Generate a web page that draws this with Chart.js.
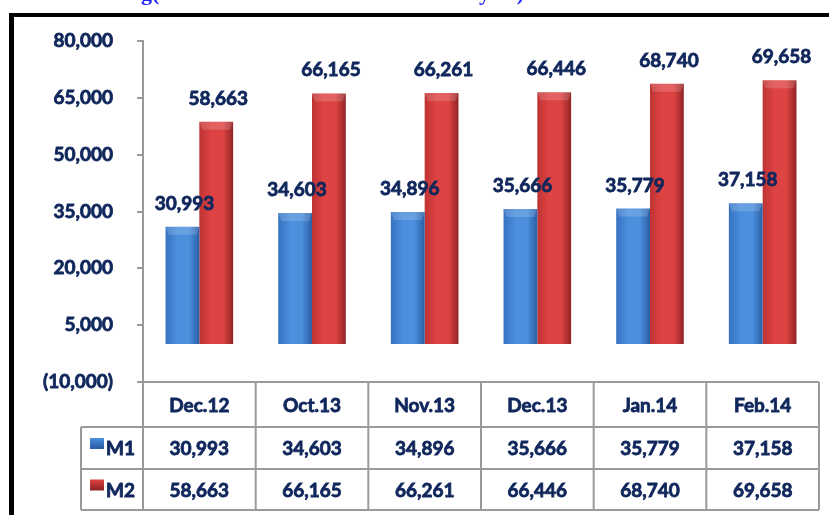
<!DOCTYPE html>
<html>
<head>
<meta charset="utf-8">
<script src="https://cdn.jsdelivr.net/npm/chart.js@4.4.1/dist/chart.umd.min.js"></script>
<style>
  body { margin: 0; background: #fff; }
  #wrap { width: 829px; height: 515px; position: relative; overflow: hidden; }
</style>
</head>
<body>
<div id="wrap"><canvas id="moneyChart" width="829" height="515"></canvas></div>
<script>
// Data
const categories = ['Dec.12', 'Oct.13', 'Nov.13', 'Dec.13', 'Jan.14', 'Feb.14'];
const seriesNames = ['M1', 'M2'];
const m1Values = [30993, 34603, 34896, 35666, 35779, 37158];
const m2Values = [58663, 66165, 66261, 66446, 68740, 69658];
const yMin = -10000;
const yMax = 80000;
const yStep = 15000;

const navy = '#10275c';
const gridGray = '#9a9a9a';
const labelFont = 'bold 19px Lato';
const boldStroke = 0.8;   // extra weight so Lato looks like heavy Calibri

// Bar shading - [edge, center, dark edge]
const barShades = [
	['#3572c2', '#4b8fdd', '#2b5ea6'],   // blue (M1)
	['#bf3333', '#de4343', '#922424']    // red (M2)
];

const catPct = 0.6;

const fmt = v => v < 0 ? '(' + Math.abs(v).toLocaleString('en-US') + ')' : v.toLocaleString('en-US');

function heavyText(c, txt, x, y) {
	c.fillText(txt, x, y);
	c.strokeText(txt, x, y);
}

// horizontal gradient across each bar so it looks rounded
function barFill(ctx, si) {
	const chart = ctx.chart;
	const x = chart.scales.x;
	const sh = barShades[si];
	if (!x || ctx.dataIndex == null || !chart.chartArea) return sh[1];
	const barW = x.width / categories.length * catPct / 2;
	const left = x.getPixelForValue(ctx.dataIndex) - barW + si * barW;
	const g = chart.ctx.createLinearGradient(left, 0, left + barW, 0);
	g.addColorStop(0, sh[0]);
	g.addColorStop(0.35, sh[1]);
	g.addColorStop(0.7, sh[1]);
	g.addColorStop(1, sh[2]);
	return g;
}

const framePlugin = {
	id: 'frame',
	beforeDraw(chart) {
		const c = chart.ctx;
		c.save();
		// cut-off title at the very top
		c.fillStyle = '#1f1fff';
		c.font = 'bold 22px "Liberation Serif"';
		c.textBaseline = 'alphabetic';
		c.textAlign = 'right';
		c.fillText('M1 and M2 Outstanding', 152, 0);
		c.textAlign = 'left';
		c.fillText('(Amount at the End of Month in Kyats)', 152, 0);
		// black frame
		c.fillStyle = '#000';
		c.fillRect(9, 13, 829, 4);
		c.fillRect(9, 13, 5, 515);
		c.restore();
	}
};

// top caps + value labels above bars, thicker y tick text
const barLabelPlugin = {
	id: 'barLabels',
	afterDatasetsDraw(chart) {
		const c = chart.ctx;
		c.save();
		c.strokeStyle = navy;
		c.lineWidth = boldStroke;
		chart.data.datasets.forEach((ds, di) => {
			chart.getDatasetMeta(di).data.forEach((el, i) => {
				const p = el.getProps(['x', 'y', 'width'], true);
				const left = p.x - p.width / 2;
				c.fillStyle = 'rgba(255,255,255,0.16)';
				c.beginPath();
				c.moveTo(left, p.y);
				c.lineTo(left + p.width, p.y);
				c.lineTo(left + p.width - 3, p.y + 8);
				c.lineTo(left + 3, p.y + 8);
				c.closePath();
				c.fill();

				c.fillStyle = navy;
				c.font = labelFont;
				c.textAlign = 'center';
				c.textBaseline = 'alphabetic';
				heavyText(c, fmt(ds.data[i]), p.x + 2, p.y - 17);
			});
		});

		// go over the y tick labels once more with a thin stroke
		const y = chart.scales.y;
		const o = y.options;
		c.font = labelFont;
		c.textAlign = 'right';
		c.textBaseline = 'middle';
		y.ticks.forEach((t, i) => {
			c.strokeText(fmt(t.value), y.right - o.grid.tickLength - o.ticks.padding, y.getPixelForTick(i));
		});
		c.restore();
	}
};

// data table under the plot
const tablePlugin = {
	id: 'dataTable',
	afterDraw(chart) {
		const c = chart.ctx;
		const x = chart.scales.x;
		const area = chart.chartArea;
		const catW = x.width / categories.length;
		const top = area.bottom;
		const rows = [top, top + 45, top + 87, top + 128];
		const legendLeft = 81;
		c.save();
		c.strokeStyle = gridGray;
		c.lineWidth = 2;
		c.beginPath();
		rows.forEach((ry, ri) => {
			c.moveTo(ri === 0 ? area.left : legendLeft, ry);
			c.lineTo(area.right, ry);
		});
		for (let i = 0; i <= categories.length; i++) {
			const cx = area.left + i * catW;
			c.moveTo(cx, top);
			c.lineTo(cx, rows[3]);
		}
		c.moveTo(legendLeft, rows[1]);
		c.lineTo(legendLeft, rows[3]);
		c.stroke();

		c.fillStyle = navy;
		c.strokeStyle = navy;
		c.lineWidth = boldStroke;
		c.font = labelFont;
		c.textAlign = 'center';
		c.textBaseline = 'middle';
		categories.forEach((cat, i) => {
			const cx = x.getPixelForValue(i);
			heavyText(c, cat, cx, (rows[0] + rows[1]) / 2 + 1);
			heavyText(c, fmt(m1Values[i]), cx, (rows[1] + rows[2]) / 2 + 1);
			heavyText(c, fmt(m2Values[i]), cx, (rows[2] + rows[3]) / 2 + 1);
		});

		// legend keys
		seriesNames.forEach((name, si) => {
			const cy = (rows[si + 1] + rows[si + 2]) / 2;
			const sh = barShades[si];
			const g = c.createLinearGradient(0, cy - 10, 0, cy);
			g.addColorStop(0, sh[1]);
			g.addColorStop(1, sh[2]);
			c.fillStyle = g;
			c.fillRect(90, cy - 10, 14, 11);
			c.fillStyle = navy;
			c.textAlign = 'left';
			heavyText(c, name, 106, cy + 1);
		});
		c.restore();
	}
};

new Chart(document.getElementById('moneyChart'), {
	type: 'bar',
	data: {
		labels: categories,
		datasets: [{
			label: seriesNames[0],
			data: m1Values,
			backgroundColor: ctx => barFill(ctx, 0),
			categoryPercentage: catPct,
			barPercentage: 1.0
		}, {
			label: seriesNames[1],
			data: m2Values,
			backgroundColor: ctx => barFill(ctx, 1),
			categoryPercentage: catPct,
			barPercentage: 1.0
		}]
	},
	options: {
		responsive: false,
		animation: false,
		layout: { padding: { left: 0, right: 10, top: 41, bottom: 133 } },
		plugins: {
			legend: { display: false },
			tooltip: { enabled: false }
		},
		scales: {
			x: { display: false },
			y: {
				min: yMin,
				max: yMax,
				afterFit: s => { s.width = 143; },
				border: { display: true, color: gridGray, width: 2 },
				grid: {
					drawOnChartArea: true,
					color: ctx => ctx.tick && ctx.tick.value === 0 ? gridGray : 'rgba(0,0,0,0)',
					lineWidth: 2,
					tickColor: gridGray,
					tickLength: 6
				},
				ticks: {
					stepSize: yStep,
					padding: 24,
					color: navy,
					font: { family: 'Lato', weight: 'bold', size: 19 },
					callback: v => fmt(v)
				}
			}
		}
	},
	plugins: [framePlugin, barLabelPlugin, tablePlugin]
});
</script>
</body>
</html>
